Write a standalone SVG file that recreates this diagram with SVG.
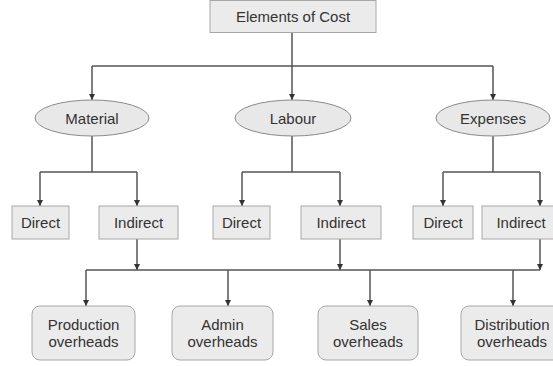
<svg xmlns="http://www.w3.org/2000/svg" width="553" height="366" viewBox="0 0 553 366">
<style>
.box{fill:#ebebeb;stroke:#a8a8a8;stroke-width:1}
.ell{fill:#e8e8e8;stroke:#8a8a8a;stroke-width:1}
.txt{font-family:"Liberation Sans",Arial,sans-serif;font-size:15px;fill:#333;text-anchor:middle}
.ln{fill:none;stroke:#555;stroke-width:1.5}
</style>
<defs>
<marker id="ah" viewBox="0 0 6 6" refX="6" refY="3" markerWidth="6" markerHeight="6" orient="auto" markerUnits="userSpaceOnUse">
<path d="M0,0 L6,3 L0,6 z" fill="#333"/>
</marker>
</defs>
<rect width="553" height="366" fill="#fff"/>
<g id="connectors">
<path class="ln" d="M292,32 V66 M92,66 H493"/>
<path class="ln" d="M92,66 V100" marker-end="url(#ah)"/>
<path class="ln" d="M292,66 V100" marker-end="url(#ah)"/>
<path class="ln" d="M493,66 V100" marker-end="url(#ah)"/>
<path class="ln" d="M92,136 V172 M40,172 H137 M292,136 V172 M242,172 H340 M493,136 V172 M443,172 H540"/>
<path class="ln" d="M40,172 V206" marker-end="url(#ah)"/>
<path class="ln" d="M137,172 V206" marker-end="url(#ah)"/>
<path class="ln" d="M242,172 V206" marker-end="url(#ah)"/>
<path class="ln" d="M340,172 V206" marker-end="url(#ah)"/>
<path class="ln" d="M443,172 V206" marker-end="url(#ah)"/>
<path class="ln" d="M540,172 V206" marker-end="url(#ah)"/>
<path class="ln" d="M137,239 V270" marker-end="url(#ah)"/>
<path class="ln" d="M340,239 V270" marker-end="url(#ah)"/>
<path class="ln" d="M540,239 V270" marker-end="url(#ah)"/>
<path class="ln" d="M86,270 H540"/>
<path class="ln" d="M86,270 V306" marker-end="url(#ah)"/>
<path class="ln" d="M228,270 V306" marker-end="url(#ah)"/>
<path class="ln" d="M370,270 V306" marker-end="url(#ah)"/>
<path class="ln" d="M513,270 V306" marker-end="url(#ah)"/>
</g>
<g id="elements-of-cost">
<rect class="box" x="210" y="0.5" width="166" height="32"/>
<text class="txt" x="293" y="22">Elements of Cost</text>
</g>
<g id="material">
<ellipse class="ell" cx="92" cy="118" rx="57" ry="18"/>
<text class="txt" x="92" y="124">Material</text>
</g>
<g id="labour">
<ellipse class="ell" cx="293" cy="118" rx="58" ry="18"/>
<text class="txt" x="293" y="124">Labour</text>
</g>
<g id="expenses">
<ellipse class="ell" cx="493" cy="118" rx="57" ry="18"/>
<text class="txt" x="493" y="124">Expenses</text>
</g>
<g id="material-direct">
<rect class="box" x="12" y="206" width="57" height="33"/>
<text class="txt" x="40.5" y="228">Direct</text>
</g>
<g id="material-indirect">
<rect class="box" x="99" y="206" width="79" height="33"/>
<text class="txt" x="138.5" y="228">Indirect</text>
</g>
<g id="labour-direct">
<rect class="box" x="213" y="206" width="57" height="33"/>
<text class="txt" x="241.5" y="228">Direct</text>
</g>
<g id="labour-indirect">
<rect class="box" x="301" y="206" width="80" height="33"/>
<text class="txt" x="341" y="228">Indirect</text>
</g>
<g id="expenses-direct">
<rect class="box" x="413" y="206" width="60" height="33"/>
<text class="txt" x="443" y="228">Direct</text>
</g>
<g id="expenses-indirect">
<rect class="box" x="482" y="206" width="78" height="33"/>
<text class="txt" x="521" y="228">Indirect</text>
</g>
<g id="production-overheads">
<rect class="box" x="32" y="306" width="103" height="54" rx="8"/>
<text class="txt" x="83.5" y="330">Production</text>
<text class="txt" x="83.5" y="347">overheads</text>
</g>
<g id="admin-overheads">
<rect class="box" x="172" y="306" width="101" height="54" rx="8"/>
<text class="txt" x="222.5" y="330">Admin</text>
<text class="txt" x="222.5" y="347">overheads</text>
</g>
<g id="sales-overheads">
<rect class="box" x="318" y="306" width="100" height="54" rx="8"/>
<text class="txt" x="368" y="330">Sales</text>
<text class="txt" x="368" y="347">overheads</text>
</g>
<g id="distribution-overheads">
<rect class="box" x="461" y="306" width="102" height="54" rx="8"/>
<text class="txt" x="512" y="330">Distribution</text>
<text class="txt" x="512" y="347">overheads</text>
</g>
</svg>
